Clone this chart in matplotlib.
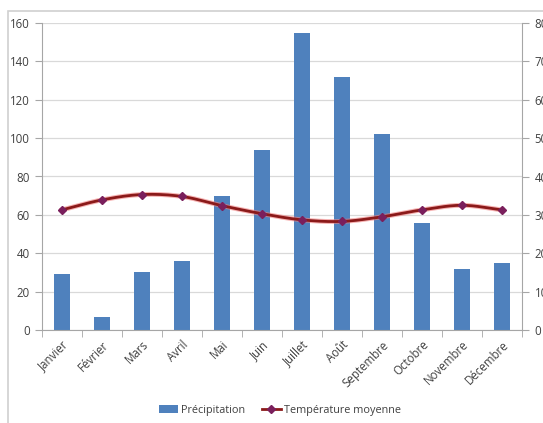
import numpy as np
import matplotlib.pyplot as plt
from matplotlib.lines import Line2D
from matplotlib.patches import Patch, Rectangle
import matplotlib.patheffects as pe

plt.rcParams['font.family'] = ['Open Sans', 'DejaVu Sans']

# Données
mois = ['Janvier', 'Février', 'Mars', 'Avril', 'Mai', 'Juin', 'Juillet',
        'Août', 'Septembre', 'Octobre', 'Novembre', 'Décembre']
precipitation = [29, 7, 30, 36, 70, 94, 155, 132, 102, 56, 32, 35]
temperature = [31.3, 33.9, 35.3, 34.8, 32.4, 30.3, 28.7, 28.3, 29.5, 31.3, 32.5, 31.3]

bleu = '#4F81BD'
rouge = '#8B1A1A'
violet = '#7A1F5C'
gris_txt = '#404040'


# Courbe lissée (Catmull-Rom) entre les points mesurés
def lisser(x, y, n=20):
    x = np.asarray(x, float)
    y = np.asarray(y, float)
    px = np.concatenate([[2 * x[0] - x[1]], x, [2 * x[-1] - x[-2]]])
    py = np.concatenate([[2 * y[0] - y[1]], y, [2 * y[-1] - y[-2]]])
    xs, ys = [], []
    t = np.linspace(0, 1, n, endpoint=False)
    for i in range(1, len(px) - 2):
        for arr, out in ((px, xs), (py, ys)):
            p0, p1, p2, p3 = arr[i - 1], arr[i], arr[i + 1], arr[i + 2]
            out.extend(0.5 * (2 * p1 + (-p0 + p2) * t
                              + (2 * p0 - 5 * p1 + 4 * p2 - p3) * t ** 2
                              + (-p0 + 3 * p1 - 3 * p2 + p3) * t ** 3))
    xs.append(x[-1])
    ys.append(y[-1])
    return np.array(xs), np.array(ys)


fig = plt.figure(figsize=(5.43, 4.23), dpi=100)
fig.patches.append(Rectangle((8 / 543, -0.01), 1.0, 1 - 11 / 423 + 0.01,
                             transform=fig.transFigure, fill=False,
                             edgecolor='#d0d0d0', linewidth=1.2))

ax = fig.add_axes([42 / 543, 1 - 330 / 423, (522 - 42) / 543, (330 - 23) / 423])
x = np.arange(len(mois))
ax.bar(x, precipitation, width=0.42, color=bleu, zorder=2)
ax.set_xlim(-0.5, len(mois) - 0.5)
ax.set_ylim(0, 160)
ax.set_yticks(range(0, 161, 20))
ax.grid(axis='y', color='#d9d9d9', linewidth=0.9, zorder=0)
ax.set_xticks(x)
ax.set_xticklabels(mois, rotation=45, ha='right', rotation_mode='anchor',
                   fontsize=8.3, color=gris_txt)
ax.set_xticks(np.arange(-0.5, len(mois), 1), minor=True)
ax.tick_params(axis='x', which='major', length=0, pad=6)
ax.tick_params(axis='x', which='minor', length=5, color='#a6a6a6')
ax.tick_params(axis='y', length=5, color='#a6a6a6', labelsize=8.3,
               labelcolor=gris_txt, pad=4)
for s in ['top', 'right']:
    ax.spines[s].set_visible(False)
for s in ['left', 'bottom']:
    ax.spines[s].set_color('#a6a6a6')

ax2 = ax.twinx()
ax2.set_ylim(0, 80)
ax2.set_yticks(range(0, 81, 10))
ax2.tick_params(axis='y', length=5, color='#a6a6a6', labelsize=8.3,
                labelcolor=gris_txt, pad=4)
for s in ['top', 'left', 'bottom']:
    ax2.spines[s].set_visible(False)
ax2.spines['right'].set_color('#a6a6a6')

xs, ys = lisser(x, temperature)
ax2.plot(xs, ys, color=rouge, linewidth=2, zorder=3,
         path_effects=[pe.Stroke(linewidth=3.5, foreground='#f08080', alpha=0.6),
                       pe.Normal()])
ax2.plot(x, temperature, linestyle='none', marker='D', markersize=4.5,
         color=violet, zorder=4)

handles = [Patch(facecolor=bleu, edgecolor='none'),
           Line2D([0], [0], color=rouge, linewidth=2, marker='D',
                  markersize=4.5, markerfacecolor=violet, markeredgecolor=violet)]
fig.legend(handles, ['Précipitation', 'Température moyenne'],
           loc='center', bbox_to_anchor=(280 / 543, 1 - 410 / 423), ncol=2,
           frameon=False, fontsize=7.8, handlelength=1.8, handletextpad=0.3,
           columnspacing=1.5, labelcolor=gris_txt)

fig.savefig('out.png', dpi=100)
